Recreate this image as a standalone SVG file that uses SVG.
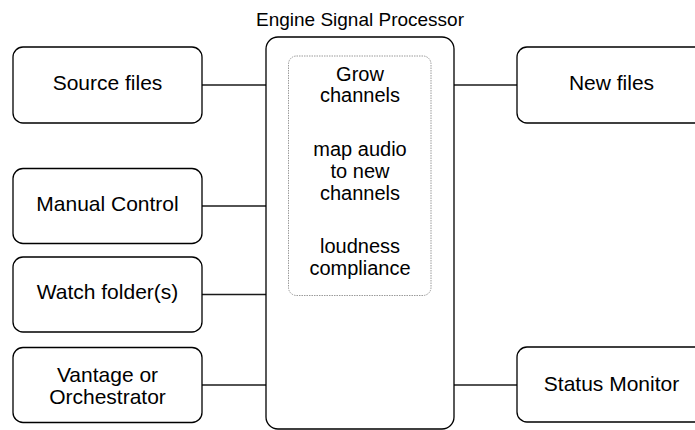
<svg xmlns="http://www.w3.org/2000/svg" width="695" height="430" viewBox="0 0 695 430">
  <style>
    .box { fill: #ffffff; stroke: #000000; stroke-width: 1.3; }
    .inner { fill: none; stroke: #9a9a9a; stroke-width: 1; stroke-dasharray: 1.5 1; }
    .wire { stroke: #1a1a1a; stroke-width: 1.3; fill: none; }
    text { font-family: "Liberation Sans", Arial, Helvetica, sans-serif; font-size: 20px; fill: #000000; text-anchor: middle; }
    .label { font-size: 21px; }
    .title { font-size: 19px; }
  </style>
  <rect width="695" height="430" fill="#ffffff"/>

  <!-- connectors between the side boxes and the processor -->
  <g id="connectors">
    <line class="wire" x1="202" y1="85" x2="266" y2="85"/>
    <line class="wire" x1="202" y1="206" x2="266" y2="206"/>
    <line class="wire" x1="202" y1="294.5" x2="266" y2="294.5"/>
    <line class="wire" x1="202" y1="385" x2="266" y2="385"/>
    <line class="wire" x1="454" y1="85" x2="517" y2="85"/>
    <line class="wire" x1="454" y1="385" x2="517" y2="385"/>
  </g>

  <!-- central processor -->
  <g id="engine-signal-processor">
    <text class="title" x="360" y="26">Engine Signal Processor</text>
    <rect class="box" x="266" y="37" width="188" height="392" rx="12" ry="12"/>
    <rect class="inner" x="288.5" y="56" width="142.5" height="239.5" rx="8" ry="8"/>
    <text x="360" y="80.5">Grow</text>
    <text x="360" y="102">channels</text>
    <text x="360" y="156">map audio</text>
    <text x="360" y="178">to new</text>
    <text x="360" y="200">channels</text>
    <text x="360" y="253">loudness</text>
    <text x="360" y="275">compliance</text>
  </g>

  <!-- inputs -->
  <g id="source-files">
    <rect class="box" x="13" y="47" width="189" height="76" rx="10" ry="10"/>
    <text class="label" x="107.5" y="90">Source files</text>
  </g>
  <g id="manual-control">
    <rect class="box" x="13" y="168.5" width="189" height="75" rx="10" ry="10"/>
    <text class="label" x="107.5" y="211">Manual Control</text>
  </g>
  <g id="watch-folders">
    <rect class="box" x="13" y="257" width="189" height="75" rx="10" ry="10"/>
    <text class="label" x="107.5" y="299">Watch folder(s)</text>
  </g>
  <g id="vantage-orchestrator">
    <rect class="box" x="13" y="347.5" width="189" height="75" rx="10" ry="10"/>
    <text class="label" x="107.5" y="382">Vantage or</text>
    <text class="label" x="107.5" y="403.5">Orchestrator</text>
  </g>

  <!-- outputs -->
  <g id="new-files">
    <rect class="box" x="517" y="47" width="189" height="76" rx="10" ry="10"/>
    <text class="label" x="611.5" y="90">New files</text>
  </g>
  <g id="status-monitor">
    <rect class="box" x="517" y="347" width="189" height="75" rx="10" ry="10"/>
    <text class="label" x="611.5" y="390.5">Status Monitor</text>
  </g>
</svg>
